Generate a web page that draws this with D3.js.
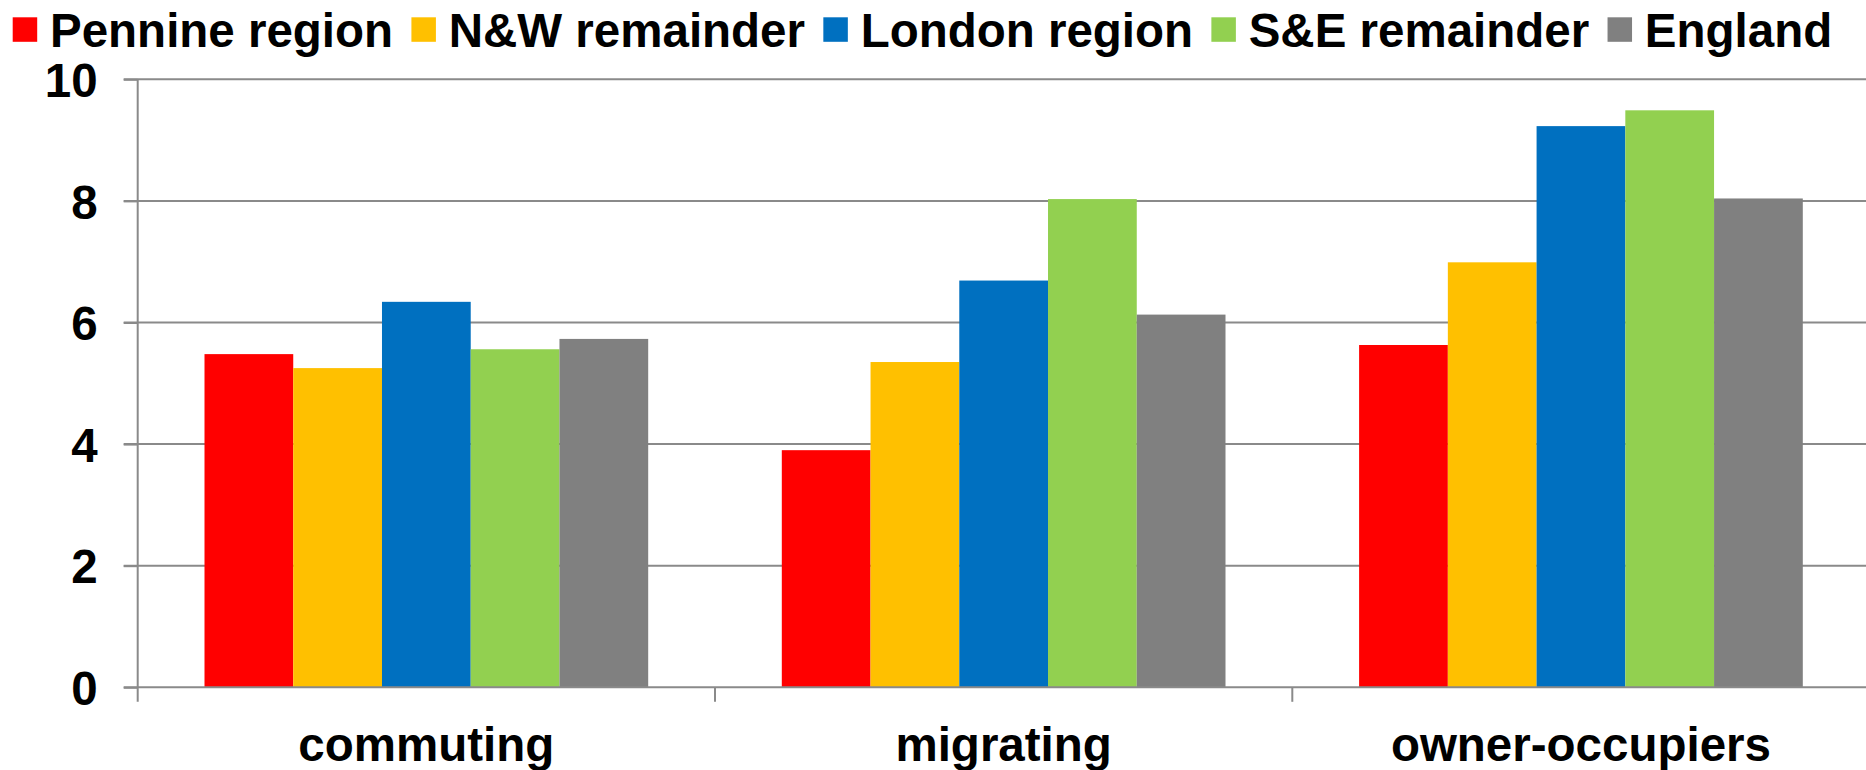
<!DOCTYPE html>
<html>
<head>
<meta charset="utf-8">
<script src="https://cdn.jsdelivr.net/npm/d3@7"></script>
<style>
  body { margin: 0; background: #fff; }
  svg { display: block; }
  text { font-family: "Liberation Sans", Arial, sans-serif; font-weight: bold; fill: #000; }
</style>
</head>
<body>
<div id="chart"></div>
<script>
// categories along the x axis
const categories = ['commuting', 'migrating', 'owner-occupiers'];
// series (legend order)
const seriesNames = ['Pennine region', 'N&W remainder', 'London region', 'S&E remainder', 'England'];
const seriesColors = ['#ff0000', '#ffc000', '#0070c0', '#92d050', '#808080'];
// values per series, one per category
const pennineRegion = [5.48, 3.90, 5.63];
const nwRemainder = [5.25, 5.35, 6.99];
const londonRegion = [6.34, 6.69, 9.23];
const seRemainder = [5.56, 8.03, 9.49];
const england = [5.73, 6.13, 8.04];
const yTicks = [0, 2, 4, 6, 8, 10];

const seriesValues = [pennineRegion, nwRemainder, londonRegion, seRemainder, england];

var width = 1866, height = 770;
var axisX = 137.7;
var catWidth = 577.3;
var fontSize = 47.5;

var svg = d3.select('#chart')
    .append('svg')
    .attr('width', width)
    .attr('height', height);

var x0 = d3.scaleBand()
    .domain(categories)
    .range([axisX, axisX + catWidth * categories.length])
    .padding(0);

var padFrac = 66.8 / catWidth;
var x1 = d3.scaleBand()
    .domain(seriesNames)
    .range([catWidth * padFrac, catWidth * (1 - padFrac)])
    .padding(0);

var y = d3.scaleLinear()
    .domain([0, 10])
    .range([687.3, 79.3]);

// gridlines (behind bars)
svg.append('g')
    .selectAll('line')
    .data(yTicks.filter(d => d > 0))
    .enter()
    .append('line')
    .attr('x1', axisX - 14)
    .attr('x2', width)
    .attr('y1', d => y(d))
    .attr('y2', d => y(d))
    .attr('stroke', '#8a8a8a')
    .attr('stroke-width', 2);

// bars
var groups = svg.append('g')
    .selectAll('g')
    .data(categories)
    .enter()
    .append('g')
    .attr('transform', d => `translate(${x0(d)},0)`);

groups.selectAll('rect')
    .data((c, ci) => seriesNames.map((s, si) => ({ s: s, v: seriesValues[si][ci], color: seriesColors[si] })))
    .enter()
    .append('rect')
    .attr('x', d => x1(d.s))
    .attr('width', x1.bandwidth())
    .attr('y', d => y(d.v))
    .attr('height', d => y(0) - y(d.v))
    .attr('fill', d => d.color);

// y axis
var yAxis = d3.axisLeft(y)
    .tickValues(yTicks)
    .tickSize(14)
    .tickPadding(26)
    .tickFormat(d3.format('d'));

var gy = svg.append('g')
    .attr('transform', `translate(${axisX},0)`)
    .call(yAxis);
gy.select('.domain').remove();
gy.selectAll('.tick line').attr('stroke', '#8a8a8a').attr('stroke-width', 2);
gy.selectAll('.tick text')
    .attr('font-size', fontSize)
    .attr('font-family', '"Liberation Sans", Arial, sans-serif')
    .attr('font-weight', 'bold')
    .attr('fill', '#000')
    .attr('dy', '0.36em');
gy.append('line')
    .attr('x1', 0).attr('x2', 0)
    .attr('y1', y(10)).attr('y2', y(0) + 14.5)
    .attr('stroke', '#8a8a8a')
    .attr('stroke-width', 2);

// x axis baseline and category separators
svg.append('line')
    .attr('x1', axisX - 14)
    .attr('x2', width)
    .attr('y1', y(0))
    .attr('y2', y(0))
    .attr('stroke', '#8a8a8a')
    .attr('stroke-width', 2);

svg.append('g')
    .selectAll('line')
    .data(categories.slice(1))
    .enter()
    .append('line')
    .attr('x1', d => x0(d))
    .attr('x2', d => x0(d))
    .attr('y1', y(0))
    .attr('y2', y(0) + 14.5)
    .attr('stroke', '#8a8a8a')
    .attr('stroke-width', 2);

svg.append('g')
    .selectAll('text')
    .data(categories)
    .enter()
    .append('text')
    .attr('x', d => x0(d) + x0.bandwidth() / 2)
    .attr('y', 761)
    .attr('text-anchor', 'middle')
    .attr('font-size', fontSize)
    .text(d => d);

// legend across the top
var legend = svg.append('g');
var lx = 12.7;
seriesNames.forEach((name, i) => {
    legend.append('rect')
        .attr('x', lx)
        .attr('y', 17.3)
        .attr('width', 24.5)
        .attr('height', 24.5)
        .attr('fill', seriesColors[i]);
    var t = legend.append('text')
        .attr('x', lx + 37.3)
        .attr('y', 46.5)
        .attr('font-size', fontSize)
        .text(name);
    lx = lx + 37.3 + t.node().getComputedTextLength() + 18.3;
});
</script>
</body>
</html>
